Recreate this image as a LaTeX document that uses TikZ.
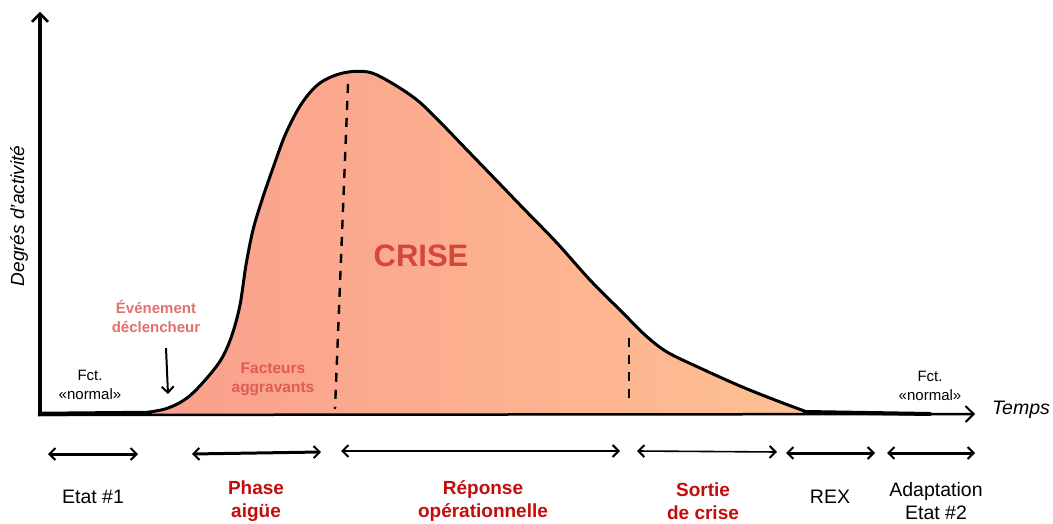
\documentclass[tikz,border=0pt]{standalone}
\usepackage{fontspec}
\setmainfont{Liberation Sans}
\usetikzlibrary{arrows.meta}
\definecolor{fillL}{RGB}{250,158,140}
\definecolor{fillR}{RGB}{254,192,146}
\definecolor{lightred}{RGB}{226,112,108}
\definecolor{midred}{RGB}{222,92,84}
\definecolor{crisered}{RGB}{214,70,60}
\definecolor{darkred}{RGB}{196,12,12}
\tikzset{
  barb/.tip={Straight Barb[length=6pt,width=12pt,line width=2pt]},
  thickarr/.style={line width=3pt,barb-barb,line cap=round},
  thinarr/.style={line width=1.6pt,barb-barb,line cap=round},
  dashline/.style={line width=2.4pt,dash pattern=on 9pt off 8pt},
  lbl/.style={align=center,font=\fontsize{19.5}{23}\selectfont},
  rlbl/.style={lbl,font=\fontsize{19}{23}\selectfont\bfseries,text=darkred},
  small/.style={align=center,font=\fontsize{15}{19}\selectfont},
}
\begin{document}
\begin{tikzpicture}[x=1pt,y=-1pt]
\useasboundingbox (0,0) rectangle (1053,524);
% fill under the curve
\shade[left color=fillL,right color=fillR]
  plot[smooth,tension=0.55] coordinates {(135,414) (165,409) (187,398) (207,378) (222,358) (232,335) (240,305) (246,265) (253,230) (262,200) (273,168) (286,133) (302,103) (320,83) (343,73) (368,72) (390,82) (417,100) (440,122) (467,150) (497,181) (523,208) (557,243) (590,280) (623,313) (645,335) (667,352) (700,368) (740,386) (775,400) (807,412)}
  -- (807,415) -- (135,415) -- cycle;
% axes
\coordinate (O) at (40,415);
\coordinate (Ytop) at (40,12);
\coordinate (Xend) at (975,414);
\draw[line width=3.5pt,-{Straight Barb[length=8pt,width=16pt,line width=2.5pt]}] (O) -- (Ytop);
\draw[line width=2.5pt,-{Straight Barb[length=8pt,width=16pt,line width=2pt]}] (38,415) -- (Xend);
\draw[line width=4.5pt,line cap=round] (40,414) -- (150,413);
\draw[line width=4pt,line cap=round] (805,412) -- (930,414);
% curve
\draw[line width=3pt,line join=round]
  plot[smooth,tension=0.55] coordinates {(135,414) (165,409) (187,398) (207,378) (222,358) (232,335) (240,305) (246,265) (253,230) (262,200) (273,168) (286,133) (302,103) (320,83) (343,73) (368,72) (390,82) (417,100) (440,122) (467,150) (497,181) (523,208) (557,243) (590,280) (623,313) (645,335) (667,352) (700,368) (740,386) (775,400) (807,412)};
% dashed separators
\coordinate (d1a) at (348,84);
\coordinate (d1b) at (335,409);
\coordinate (d2a) at (629,338);
\coordinate (d2b) at (629,405);
\draw[dashline] (d1a) -- (d1b);
\draw[dashline] (d2a) -- (d2b);
% texts
\node[rotate=90,font=\fontsize{19}{22}\selectfont\itshape] (ylab) at (19,216) {Degrés d'activité};
\node[font=\fontsize{19.5}{22}\selectfont\itshape] (xlab) at (1021,410) {Temps};
\node[small,font=\fontsize{15}{19}\selectfont\bfseries,text=lightred] (evt) at (156,316) {Événement\\déclencheur};
\coordinate (evtA) at (166,348);
\coordinate (evtB) at (168,394);
\draw[line width=2pt,-{Straight Barb[length=6pt,width=12pt,line width=2pt]}] (evtA) -- (evtB);
\node[small] (fct1) at (90,385) {Fct.\\«normal»};
\node[small] (fct2) at (930,386) {Fct.\\«normal»};
\node[small,font=\fontsize{15.5}{19}\selectfont\bfseries,text=midred] (fact) at (273,379) {Facteurs\\aggravants};
\node[font=\fontsize{31}{36}\selectfont\bfseries,text=crisered] (crise) at (421,256) {CRISE};
% bottom arrows
\coordinate (a1) at (48,454); \coordinate (b1) at (138,454);
\coordinate (a2) at (192,454); \coordinate (b2) at (321,452);
\coordinate (a3) at (341,451); \coordinate (b3) at (620,451);
\coordinate (a4) at (637,451); \coordinate (b4) at (777,452);
\coordinate (a5) at (786,453); \coordinate (b5) at (875,453);
\coordinate (a6) at (887,453); \coordinate (b6) at (975,453);
\draw[thickarr] (a1) -- (b1);
\draw[thickarr] (a2) -- (b2);
\draw[thinarr] (a3) -- (b3);
\draw[thinarr] (a4) -- (b4);
\draw[thickarr] (a5) -- (b5);
\draw[thickarr] (a6) -- (b6);
% bottom labels
\node[lbl] (l1) at (93,497) {Etat \#1};
\node[rlbl] (l2) at (256,501) {Phase\\aigüe};
\node[rlbl] (l3) at (483,501) {Réponse\\opérationnelle};
\node[rlbl] (l4) at (703,501) {Sortie\\de crise};
\node[lbl] (l5) at (830,497) {REX};
\node[lbl] (l6) at (936,501) {Adaptation\\Etat \#2};
\end{tikzpicture}
\end{document}
